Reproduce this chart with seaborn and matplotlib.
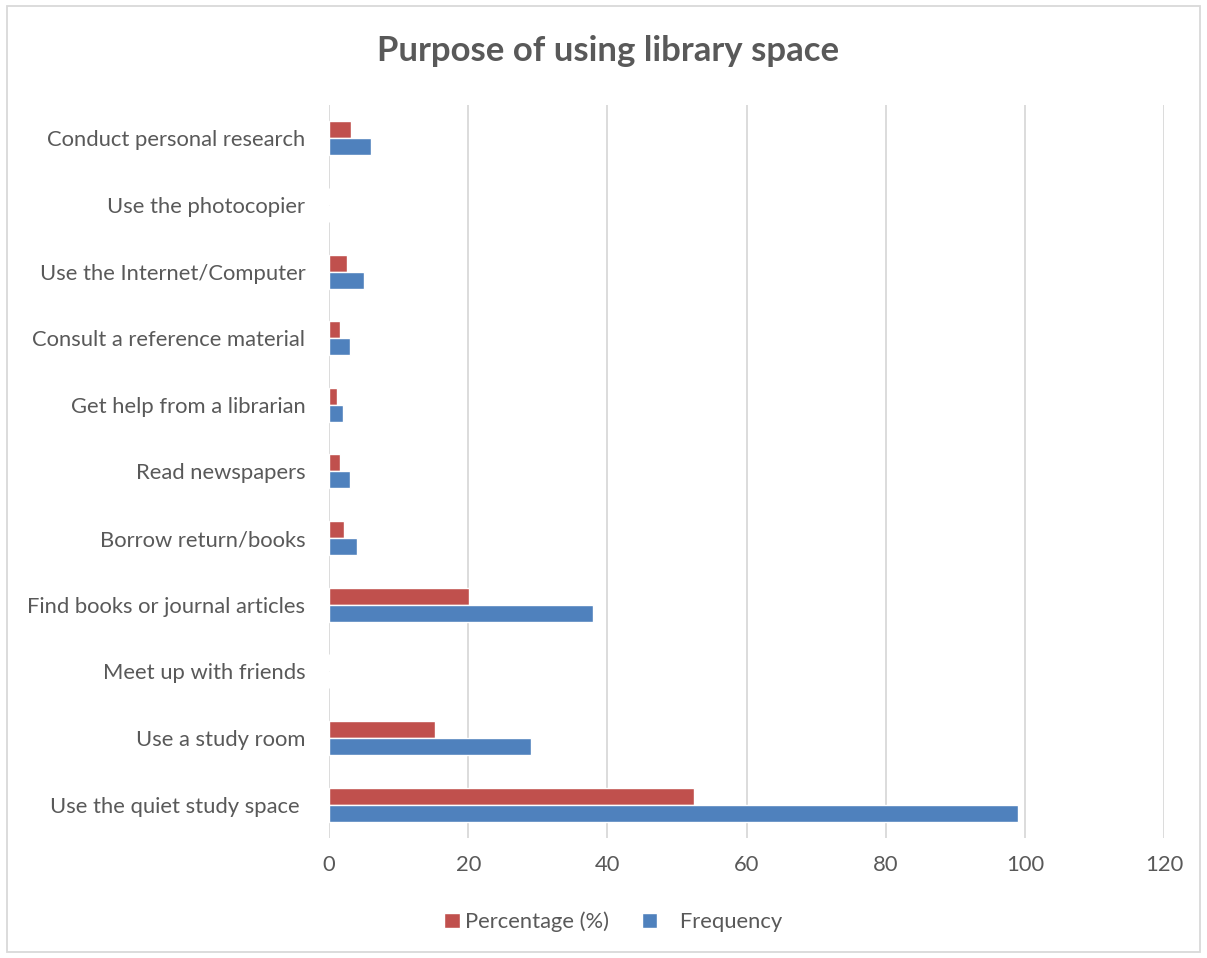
import pandas as pd
import matplotlib.pyplot as plt
import seaborn as sns
from matplotlib.patches import Patch, Rectangle

# Survey data
purposes = [
    "Conduct personal research",
    "Use the photocopier",
    "Use the Internet/Computer",
    "Consult a reference material",
    "Get help from a librarian",
    "Read newspapers",
    "Borrow return/books",
    "Find books or journal articles",
    "Meet up with friends",
    "Use a study room",
    "Use the quiet study space ",
]
frequency = [6, 0, 5, 3, 2, 3, 4, 38, 0, 29, 99]
percentage = [3.2, 0, 2.6, 1.6, 1.1, 1.6, 2.1, 20.1, 0, 15.3, 52.4]
series = ["Percentage (%)", "Frequency"]
colors = ["#C0504D", "#4F81BD"]
xticks = [0, 20, 40, 60, 80, 100, 120]

TEXT = "#595959"
GRID = "#D9D9D9"

df = pd.DataFrame({"Purpose": purposes, series[0]: percentage, series[1]: frequency})
df_long = df.melt(id_vars="Purpose", var_name="Series", value_name="Value")

sns.set_style("white")
plt.rcParams["font.family"] = ["Lato", "DejaVu Sans"]

fig = plt.figure(figsize=(12.07, 9.58), dpi=100)
ax = fig.add_axes([0.2726, 0.1253, 0.6918, 0.7651])

sns.barplot(data=df_long, y="Purpose", x="Value", hue="Series", order=purposes,
            hue_order=series, palette=colors, width=0.51, orient="h",
            saturation=1, legend=False, ax=ax)

ax.set_xlim(0, 120)
ax.set_ylim(len(purposes) - 0.5, -0.5)
ax.set_xticks(xticks)
ax.set_xticklabels([str(t) for t in xticks])
ax.set_xlabel("")
ax.set_ylabel("")
ax.grid(axis="x", color=GRID, linewidth=1.3)
ax.set_axisbelow(True)
for s in ax.spines.values():
    s.set_visible(False)
ax.tick_params(axis="both", length=0, labelsize=15.8, labelcolor=TEXT)
ax.tick_params(axis="x", pad=12)
ax.tick_params(axis="y", pad=17)

fig.text(0.504, 0.947, "Purpose of using library space", ha="center", va="center",
         fontsize=25, fontweight="bold", color=TEXT)

handles = [Patch(facecolor=colors[0]), Patch(facecolor=colors[1])]
fig.legend(handles, ["Percentage (%)", "   Frequency"], loc="center",
           bbox_to_anchor=(0.508, 0.038), ncol=2, frameon=False, fontsize=15.8,
           handlelength=0.7, handleheight=0.7, handletextpad=0.25,
           columnspacing=1.5, labelcolor=TEXT)

# chart border
fig.patches.append(Rectangle((7 / 1207, 6 / 958), 1193 / 1207, 946 / 958,
                             transform=fig.transFigure, fill=False,
                             edgecolor=GRID, linewidth=1.3))

plt.savefig("out.png", dpi=100)
plt.close()
